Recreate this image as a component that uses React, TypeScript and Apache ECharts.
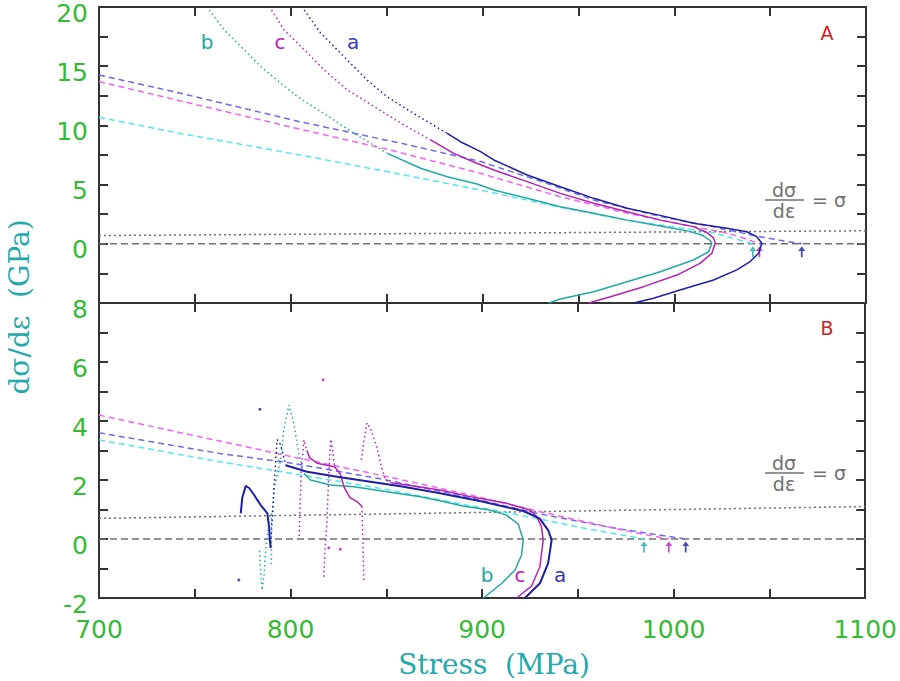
import { useEffect, useRef } from 'react';
import * as echarts from 'echarts';

// ---- panel A (top) ----
// measured curves: dotted upper part, solid lower part
const aDotA = [[807, 19.75], [815.6, 17.8], [827.8, 15.8], [840, 13.8], [850.4, 12.4], [864.2, 11.0], [881.6, 9.33]];
const aSolidA = [[881.6, 9.33], [888.5, 8.62], [899, 7.78], [905.9, 7.08], [923.3, 5.81], [940.6, 4.82], [958, 3.84], [975.4, 3.0], [992.7, 2.4], [1010, 1.73], [1027.5, 1.31], [1037.8, 1.02], [1043, 0.6], [1045.7, 0.04], [1044, -0.8], [1039.6, -1.5], [1032.6, -2.2], [1020.5, -3.06], [1003, -3.9], [989.2, -4.6], [978.8, -5]];
const cDotA = [[790, 19.75], [796.5, 18.06], [807, 16.4], [817.3, 14.7], [829.5, 13.0], [843.4, 11.6], [857.3, 10.2], [872.9, 8.77]];
const cSolidA = [[872.9, 8.77], [885, 7.64], [897, 6.8], [905.9, 6.23], [923.3, 5.25], [940.6, 4.26], [958, 3.42], [975.4, 2.7], [992.7, 2.0], [1010, 1.45], [1017, 0.95], [1020.5, 0.5], [1021.4, 0.04], [1019.6, -0.8], [1013.4, -1.65], [1001.4, -2.64], [984, -3.62], [966.7, -4.47], [955.4, -5]];
const bDotA = [[757.5, 19.75], [765.3, 18.06], [774, 16.65], [784.4, 14.96], [794.8, 13.56], [803.5, 12.42], [817.3, 11.0], [833, 9.33], [850.4, 7.64]];
const bSolidA = [[850.4, 7.64], [867.7, 6.38], [881.6, 5.67], [897.2, 5.05], [905.9, 4.54], [923.3, 3.84], [940.6, 3.13], [958, 2.58], [975.4, 2.0], [992.7, 1.5], [1008, 1.05], [1015, 0.7], [1018.6, 0.3], [1019.6, 0.04], [1017.9, -0.67], [1010, -1.37], [992.7, -2.36], [975.4, -3.2], [958, -4.05], [940.6, -4.66], [934.5, -5]];
// model (dashed)
const aDashA = [[700, 14.26], [743, 12.7], [805, 10.3], [821, 9.75], [860, 8.4], [899, 6.95], [930, 5.3], [958, 3.7], [993, 2.3], [1020, 1.45], [1043, 0.65], [1055, 0.3], [1066.5, 0]];
const cDashA = [[700, 13.7], [743, 12.05], [805, 9.67], [850, 8.0], [899, 5.95], [940, 4.0], [975, 2.6], [1005, 1.6], [1025, 1.0], [1034, 0.6], [1044.4, 0]];
const bDashA = [[700, 10.68], [743, 9.3], [805, 7.5], [850, 6.1], [899, 4.54], [940, 3.1], [975, 2.0], [1005, 1.3], [1020, 0.95], [1041, 0]];
const arrowsA = [1041, 1044.4, 1066.5];

// ---- panel B (bottom) ----
const aStartB = [[774, 0.87], [774.8, 1.4], [776.6, 1.8], [778.5, 1.72], [780.9, 1.5], [784.4, 1.15], [787.9, 0.87], [788.8, 0.4], [789.2, -0.03], [789.6, -0.3]];
const aSpikeB = [[789.6, -0.3], [790.3, 0.6], [791.3, 1.66], [792.3, 2.7], [793, 3.36], [794.2, 3.3], [795.6, 3.0], [797.4, 2.5]];
const aMainB = [[797.4, 2.5], [808.6, 2.28], [824.3, 2.11], [841.7, 1.94], [859, 1.77], [878, 1.55], [900, 1.27], [921.5, 0.95], [930, 0.7], [934.5, 0.3], [936.3, -0.03], [934.5, -0.82], [930.2, -1.5], [922.4, -2.0]];
const cSpike1B = [[804.5, 0.1], [805, 1.2], [805.6, 2.3], [807, 3.36], [808.5, 3.0]];
const cMain1B = [[808.5, 3.0], [810, 2.75], [813.9, 2.57], [819, 2.5], [823, 2.45], [826, 2.2], [828, 1.75], [831, 1.4], [834.7, 1.27], [837.3, 1.1]];
const cDropB = [[837.3, 1.1], [837.6, 0.3], [838, -0.6], [838.2, -1.39]];
const cSpike2B = [[817.3, -1.28], [818, -0.4], [819, 0.6], [819.6, 1.6], [820.3, 2.6], [821, 3.38], [822, 3.0], [823, 2.45]];
const cSpike3B = [[837, 2.68], [838, 3.2], [839.9, 3.94], [842, 3.7], [845, 3.13], [847.2, 2.5], [849.5, 2.0], [853, 1.9]];
const cMain2B = [[853, 1.9], [859, 1.85], [878, 1.66], [895, 1.42], [912.8, 1.21], [925, 0.98], [928.5, 0.76], [931, 0.42], [931.9, -0.03], [930.2, -0.93], [925.8, -1.6], [918, -2.0]];
const bDipB = [[783.8, -0.4], [784.4, -1.1], [785.2, -1.73], [786.2, -1.2], [787.2, -0.2], [788.5, 0.4]];
const bColB = [[790, 0.87], [790, -0.9]];
const bSpikeB = [[790.5, 0.6], [791.3, 1.66], [794.8, 2.68], [796.5, 3.7], [799.1, 4.54], [801.7, 3.92], [804.3, 2.9], [807, 2.23]];
const bMainB = [[807, 2.23], [810.4, 2.0], [820.8, 1.83], [833, 1.77], [850.4, 1.6], [867.7, 1.43], [878, 1.3], [890, 1.12], [904, 0.98], [912.8, 0.81], [918.9, 0.5], [921.5, -0.03], [920.6, -0.54], [917.2, -1.05], [910.3, -1.5], [900.7, -2.0]];
const aDashB = [[700, 3.6], [763, 2.9], [800, 2.58], [850, 2.0], [888, 1.48], [930, 0.85], [970, 0.36], [1006.3, 0]];
const cDashB = [[700, 4.2], [763, 3.32], [800, 2.8], [850, 2.12], [888, 1.58], [930, 0.93], [965, 0.42], [985, 0.15], [997.5, 0]];
const bDashB = [[700, 3.36], [763, 2.62], [800, 2.23], [850, 1.68], [888, 1.2], [930, 0.68], [956, 0.33], [984.5, 0]];
const strayA = [[784, 4.4], [773, -1.39]];
const strayC = [[817, 5.4], [820, -0.3], [826, -0.35]];
const arrowsB = [984.5, 997.5, 1006.3];

// shared reference lines
const zeroLine = [[700, 0], [1100, 0]];
const sigmaLine = [[700, 0.7], [1100, 1.1]];

const NAVY = '#1e1ea6';
const MAG = '#b820b8';
const TEAL = '#20aaa2';
const BLUE_D = '#6a6af0';
const MAG_D = '#f462f4';
const CYAN_D = '#52e8e8';
const GRAY = '#707070';
const GREEN = '#33bb33';
const AXIS = '#333333';

const DOT = [1.5, 3];
const DASH = [6, 4];
const ARROW = 'path://M4,0 L8,5 L5,5 L5,12 L3,12 L3,5 L0,5 Z';

function line(data: number[][], p: number, color: string, type: any, width = 1.5) {
  return {
    type: 'line',
    xAxisIndex: p * 2,
    yAxisIndex: p * 2,
    data,
    symbol: 'none',
    silent: true,
    lineStyle: { color, width, type }
  };
}

function arrows(xs: number[], p: number) {
  const cols = [TEAL, MAG, NAVY];
  return {
    type: 'scatter',
    xAxisIndex: p * 2,
    yAxisIndex: p * 2,
    symbol: ARROW,
    symbolSize: [7, 11],
    symbolOffset: [0, 8],
    silent: true,
    data: xs.map((x, i) => ({ value: [x, 0], itemStyle: { color: cols[i] } }))
  };
}

function dots(data: number[][], color: string) {
  return {
    type: 'scatter',
    xAxisIndex: 2,
    yAxisIndex: 2,
    symbolSize: 3,
    silent: true,
    itemStyle: { color },
    data
  };
}

const tickFont = { fontFamily: 'DejaVu Sans', fontSize: 25, color: GREEN };

function xAxis(grid: number, position: string, labels: boolean) {
  return {
    type: 'value',
    gridIndex: grid,
    position,
    min: 700,
    max: 1100,
    interval: 50,
    axisLine: { show: true, onZero: false, lineStyle: { color: AXIS, width: 2 } },
    axisTick: { show: true, inside: true, length: 9, lineStyle: { color: AXIS, width: 2 } },
    axisLabel: {
      show: labels,
      ...tickFont,
      margin: 25,
      verticalAlign: 'top',
      lineHeight: 12,
      formatter: (v: number) => (v % 100 === 0 ? String(v) : '')
    },
    splitLine: { show: false }
  };
}

function yAxis(grid: number, position: string, min: number, max: number, step: number, every: number, labels: boolean) {
  return {
    type: 'value',
    gridIndex: grid,
    position,
    min,
    max,
    interval: step,
    axisLine: { show: true, onZero: false, lineStyle: { color: AXIS, width: 2 } },
    axisTick: { show: true, inside: true, length: 9, lineStyle: { color: AXIS, width: 2 } },
    axisLabel: {
      show: labels,
      ...tickFont,
      margin: 11,
      verticalAlign: 'top',
      lineHeight: 12,
      formatter: (v: number) => (v % every === 0 && !(grid === 0 && v === min) ? String(v) : '')
    },
    splitLine: { show: false }
  };
}

function txt(x: number, y: number, text: string, fill: string, size = 20) {
  return {
    type: 'text',
    x,
    y,
    silent: true,
    style: { text, fill, font: `${size}px "DejaVu Sans"`, align: 'center', verticalAlign: 'middle' }
  };
}

function fraction(cx: number, cy: number) {
  return [
    txt(cx, cy - 10, 'dσ', GRAY, 19),
    txt(cx, cy + 11, 'dε', GRAY, 19),
    { type: 'line', silent: true, shape: { x1: cx - 19, y1: cy, x2: cx + 20, y2: cy }, style: { stroke: GRAY, lineWidth: 1.5 } },
    txt(cx + 45, cy, '= σ', GRAY, 19)
  ];
}

export default function App() {
  const chartRef = useRef<HTMLDivElement>(null);

  useEffect(() => {
    if (!chartRef.current) return;
    const chart = echarts.init(chartRef.current, null, { renderer: 'svg' });

    const option = {
      animation: false,
      backgroundColor: '#ffffff',
      grid: [
        { left: 99, top: 7, width: 767, height: 296 },
        { left: 99, top: 303, width: 767, height: 295 }
      ],
      xAxis: [
        xAxis(0, 'bottom', false),
        xAxis(0, 'top', false),
        xAxis(1, 'bottom', true),
        xAxis(1, 'top', false)
      ],
      yAxis: [
        yAxis(0, 'left', -5, 20, 2.5, 5, true),
        yAxis(0, 'right', -5, 20, 2.5, 5, false),
        yAxis(1, 'left', -2, 8, 1, 2, true),
        yAxis(1, 'right', -2, 8, 1, 2, false)
      ],
      series: [
        // panel A
        line(zeroLine, 0, GRAY, [7, 4]),
        line(sigmaLine, 0, GRAY, [2, 3]),
        line(bDashA, 0, CYAN_D, DASH),
        line(cDashA, 0, MAG_D, DASH),
        line(aDashA, 0, BLUE_D, DASH),
        line(bDotA, 0, TEAL, DOT),
        line(cDotA, 0, MAG, DOT),
        line(aDotA, 0, NAVY, DOT),
        line(bSolidA, 0, TEAL, 'solid'),
        line(cSolidA, 0, MAG, 'solid'),
        line(aSolidA, 0, NAVY, 'solid'),
        arrows(arrowsA, 0),
        // panel B
        line(zeroLine, 1, GRAY, [7, 4]),
        line(sigmaLine, 1, GRAY, [2, 3]),
        line(bDashB, 1, CYAN_D, DASH),
        line(aDashB, 1, BLUE_D, DASH),
        line(cDashB, 1, MAG_D, DASH),
        line(bDipB, 1, TEAL, DOT),
        line(bColB, 1, TEAL, DOT),
        line(bSpikeB, 1, TEAL, DOT),
        line(bMainB, 1, TEAL, 'solid'),
        line(cSpike1B, 1, MAG, DOT),
        line(cSpike2B, 1, MAG, DOT),
        line(cSpike3B, 1, MAG, DOT),
        line(cDropB, 1, MAG, DOT),
        line(cMain1B, 1, MAG, 'solid'),
        line(cMain2B, 1, MAG, 'solid'),
        line(aStartB, 1, NAVY, 'solid', 2),
        line(aSpikeB, 1, NAVY, DOT),
        line(aMainB, 1, NAVY, 'solid', 2),
        dots(strayA, NAVY),
        dots(strayC, MAG),
        arrows(arrowsB, 1)
      ],
      graphic: [
        txt(207, 42, 'b', TEAL),
        txt(280, 42, 'c', MAG),
        txt(353, 42, 'a', '#3434bb'),
        txt(487, 575, 'b', TEAL),
        txt(520, 575, 'c', MAG),
        txt(560, 575, 'a', '#3434bb'),
        txt(827, 33, 'A', '#cc2222', 19),
        txt(827, 328, 'B', '#cc2222', 19),
        ...fraction(784, 200),
        ...fraction(784, 473),
        {
          type: 'text',
          x: 494,
          y: 664,
          silent: true,
          style: { text: 'Stress  (MPa)', fill: '#22aaaa', font: '28px "DejaVu Serif"', align: 'center', verticalAlign: 'middle' }
        },
        {
          type: 'text',
          x: 19,
          y: 307,
          rotation: Math.PI / 2,
          silent: true,
          style: { text: 'dσ/dε  (GPa)', fill: '#22aaaa', font: '28px "DejaVu Serif"', align: 'center', verticalAlign: 'middle' }
        }
      ]
    };

    chart.setOption(option);

    return () => {
      chart.dispose();
    };
  }, []);

  return (
    <div style={{ position: 'fixed', left: 0, top: 0, width: 900, height: 681, background: '#fff' }}>
      <div ref={chartRef} style={{ width: '100%', height: '100%' }}></div>
    </div>
  );
}
